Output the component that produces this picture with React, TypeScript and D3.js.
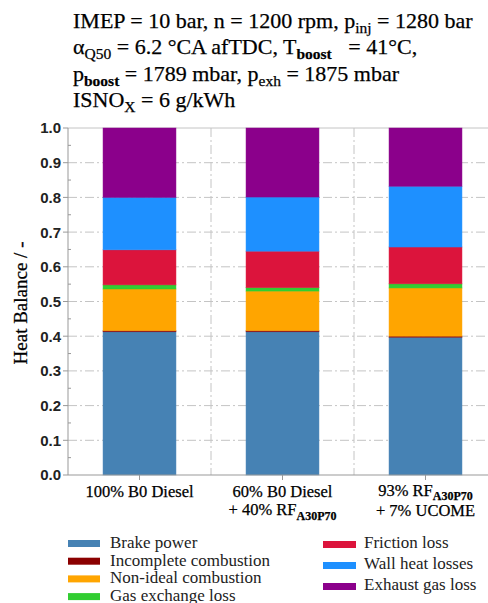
import React from 'react';
import * as d3 from 'd3';

// categories (x) and heat balance shares per loss channel
const fuels = ['100% B0 Diesel', '60% B0 Diesel', '93% RF'];
const brakePower = [0.413, 0.413, 0.397];
const incompleteCombustion = [0.003, 0.003, 0.003];
const nonIdealCombustion = [0.120, 0.114, 0.139];
const gasExchangeLoss = [0.012, 0.010, 0.012];
const frictionLoss = [0.101, 0.105, 0.106];
const wallHeatLosses = [0.151, 0.156, 0.175];
const exhaustGasLoss = [0.200, 0.199, 0.168];

const seriesNames = [
    'Brake power',
    'Incomplete combustion',
    'Non-ideal combustion',
    'Gas exchange loss',
    'Friction loss',
    'Wall heat losses',
    'Exhaust gas loss',
];
const seriesValues = [
    brakePower,
    incompleteCombustion,
    nonIdealCombustion,
    gasExchangeLoss,
    frictionLoss,
    wallHeatLosses,
    exhaustGasLoss,
];
const seriesColors = ['#4682B4', '#8B0000', '#FFA500', '#32CD32', '#DC143C', '#1E90FF', '#8B008B'];
const yTicks = [0, 0.1, 0.2, 0.3, 0.4, 0.5, 0.6, 0.7, 0.8, 0.9, 1.0];

const W = 488;
const H = 603;
const margin = { left: 68, top: 128 };
const plotRight = 497;
const plotBottom = 475;

const serif = '"Liberation Serif", "Times New Roman", serif';
const sans = '"Liberation Sans", Arial, sans-serif';
const nb = '\u00A0';

export default function App() {
    const rows = fuels.map((f, i) => {
        const r: Record<string, number | string> = { fuel: f };
        seriesNames.forEach((s, k) => (r[s] = seriesValues[k][i]));
        return r;
    });
    const stacked = d3.stack<any>().keys(seriesNames)(rows);

    const x = d3.scaleBand<string>().domain(fuels).range([margin.left, plotRight]).paddingInner(0.49).paddingOuter(0.245);
    const y = d3.scaleLinear().domain([0, 1]).range([plotBottom, margin.top]);
    const minor = d3.range(0.05, 1, 0.1);

    const gridColor = '#c4c4c4';
    const dash = '9,3,2,3';
    const step = x.step();
    const boundaries = fuels.slice(1).map((f) => (x(f) as number) - (step - x.bandwidth()) / 2);
    const cx = (f: string) => (x(f) as number) + x.bandwidth() / 2;

    const legendLeft = seriesNames.slice(0, 4);
    const legendRight = seriesNames.slice(4);
    const heavy = { stroke: '#000', strokeWidth: 0.25 };
    const sub = 15.5;

    return (
        <svg width={W} height={H} style={{ position: 'absolute', left: 0, top: 0, background: '#fff' }}>
            {/* title */}
            <g fontFamily={serif} fontSize={22} fill="#000" {...heavy}>
                <text x={73} y={28}>
                    IMEP = 10 bar, n = 1200 rpm, p<tspan dy={5} fontSize={sub}>inj</tspan>
                    <tspan dy={-5}> = 1280 bar</tspan>
                </text>
                <text x={73} y={54}>
                    α<tspan dy={5} fontSize={sub}>Q50</tspan>
                    <tspan dy={-5}> = 6.2 °CA afTDC, T</tspan>
                    <tspan dy={5} fontSize={sub} fontWeight="bold">boost</tspan>
                    <tspan dy={-5}>{`${nb}${nb} = 41°C,`}</tspan>
                </text>
                <text x={73} y={81}>
                    p<tspan dy={5} fontSize={sub} fontWeight="bold">boost</tspan>
                    <tspan dy={-5}> = 1789 mbar, p</tspan>
                    <tspan dy={5} fontSize={sub}>exh</tspan>
                    <tspan dy={-5}> = 1875 mbar</tspan>
                </text>
                <text x={73} y={107}>
                    ISNO<tspan dy={5} fontSize={sub}>X</tspan>
                    <tspan dy={-5}> = 6 g/kWh</tspan>
                </text>
            </g>

            {/* grid */}
            {yTicks.slice(1, -1).map((t) => (
                <line key={t} x1={margin.left} x2={plotRight} y1={y(t)} y2={y(t)} stroke={gridColor} strokeDasharray={dash} />
            ))}
            {boundaries.map((b) => (
                <line key={b} x1={b} x2={b} y1={margin.top} y2={plotBottom} stroke={gridColor} strokeDasharray={dash} />
            ))}
            <line x1={margin.left} x2={plotRight} y1={y(1)} y2={y(1)} stroke={gridColor} />

            {/* bars */}
            {stacked.map((layer, k) => (
                <g key={layer.key} fill={seriesColors[k]}>
                    {layer.map((d, i) => (
                        <rect
                            key={i}
                            x={x(fuels[i])}
                            width={x.bandwidth()}
                            y={y(d[1])}
                            height={y(d[0]) - y(d[1])}
                            stroke={seriesColors[k]}
                            strokeOpacity={0.6}
                            strokeWidth={0.8}
                        />
                    ))}
                </g>
            ))}

            {/* y axis */}
            <line x1={margin.left} x2={margin.left} y1={margin.top} y2={plotBottom} stroke="#999" />
            {yTicks.map((t) => (
                <g key={t}>
                    <line x1={margin.left - 5} x2={margin.left} y1={y(t)} y2={y(t)} stroke="#999" />
                    <text
                        x={61}
                        y={y(t)}
                        dy="0.36em"
                        textAnchor="end"
                        fontFamily={sans}
                        fontWeight="bold"
                        fontSize={15}
                        fill="#222"
                    >
                        {d3.format('.1f')(t)}
                    </text>
                </g>
            ))}
            {minor.map((t) => (
                <line key={t} x1={margin.left} x2={margin.left + 3} y1={y(t)} y2={y(t)} stroke="#999" />
            ))}
            <text
                transform={`translate(27,${303}) rotate(-90)`}
                textAnchor="middle"
                fontFamily={serif}
                fontSize={19}
                {...heavy}
            >
                Heat Balance / -
            </text>

            {/* x axis */}
            <line x1={margin.left} x2={plotRight} y1={plotBottom} y2={plotBottom} stroke="#999" />
            {fuels.map((f) => (
                <line key={f} x1={cx(f)} x2={cx(f)} y1={plotBottom} y2={plotBottom + 5} stroke="#999" />
            ))}
            <g fontFamily={serif} fontSize={16.5} textAnchor="middle" {...heavy}>
                <text x={cx(fuels[0])} y={497}>
                    {fuels[0]}
                </text>
                <text x={cx(fuels[1])} y={497}>
                    {fuels[1]}
                </text>
                <text x={cx(fuels[1])} y={515}>
                    + 40% RF<tspan dy={5} fontSize={12} fontWeight="bold">A30P70</tspan>
                </text>
                <text x={cx(fuels[2])} y={496}>
                    {fuels[2]}
                    <tspan dy={4} fontSize={12} fontWeight="bold">A30P70</tspan>
                </text>
                <text x={cx(fuels[2])} y={516}>
                    + 7% UCOME
                </text>
            </g>

            {/* legend */}
            <g fontFamily={serif} fontSize={17} fill="#222">
                {legendLeft.map((s, i) => (
                    <g key={s} transform={`translate(68,${548 + i * 17.7})`}>
                        <rect y={-8} width={32} height={7} fill={seriesColors[i]} />
                        <text x={42} y={0}>
                            {s}
                        </text>
                    </g>
                ))}
                {legendRight.map((s, i) => (
                    <g key={s} transform={`translate(323,${548 + i * 21})`}>
                        <rect y={-7} width={33} height={7} fill={seriesColors[i + 4]} />
                        <text x={41} y={0}>
                            {s}
                        </text>
                    </g>
                ))}
            </g>
        </svg>
    );
}
